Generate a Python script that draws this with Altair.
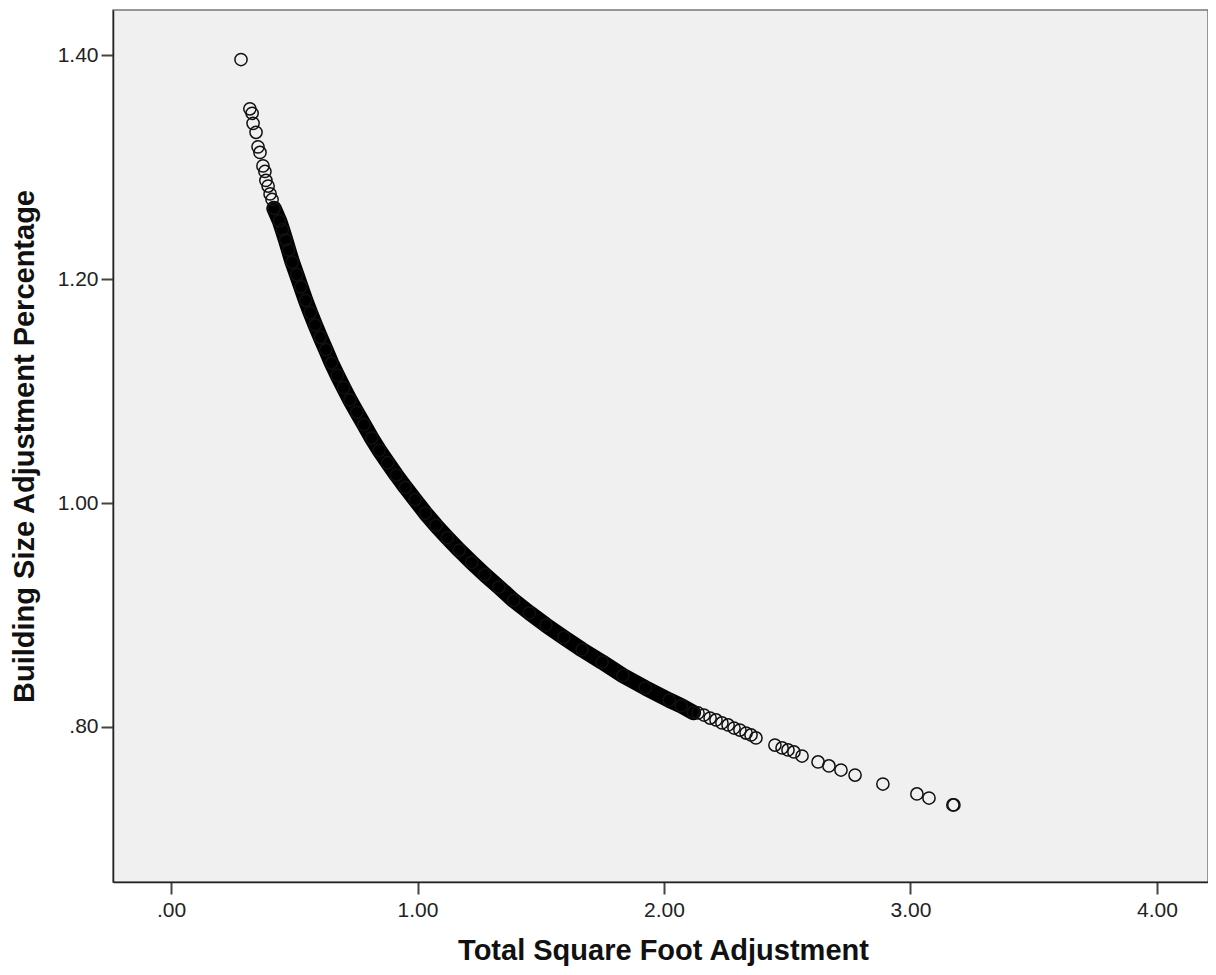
import altair as alt
import pandas as pd

sparse_x = [0.284, 0.320, 0.329, 0.333, 0.345, 0.353, 0.361, 0.373, 0.381, 0.385, 0.394, 0.402, 0.410, 0.418,
            2.138, 2.162, 2.187, 2.211, 2.235, 2.260, 2.284, 2.308, 2.333, 2.353, 2.373,
            2.450, 2.479, 2.503, 2.527, 2.560, 2.625, 2.669, 2.718, 2.775, 2.888, 3.026, 3.075, 3.172, 3.176]
sparse_y = [1.396, 1.352, 1.348, 1.339, 1.331, 1.318, 1.313, 1.301, 1.296, 1.288, 1.283, 1.276, 1.271, 1.263,
            0.8125, 0.8107, 0.8080, 0.8063, 0.8036, 0.8018, 0.7991, 0.7973, 0.7946, 0.7929, 0.7902,
            0.7839, 0.7813, 0.7795, 0.7777, 0.7741, 0.7688, 0.7652, 0.7616, 0.7571, 0.7491, 0.7402, 0.7366, 0.7304, 0.7304]

dense_x = [0.418, 0.440, 0.452, 0.465, 0.477, 0.492, 0.510, 0.527, 0.546, 0.565, 0.585, 0.606, 0.628, 0.651,
           0.675, 0.700, 0.726, 0.754, 0.783, 0.814, 0.845, 0.879, 0.914, 0.951, 0.990, 1.032, 1.075, 1.121,
           1.169, 1.220, 1.273, 1.330, 1.390, 1.454, 1.521, 1.593, 1.668, 1.749, 1.833, 1.924, 2.021, 2.070, 2.119]
dense_y = [1.263, 1.252, 1.244, 1.235, 1.226, 1.215, 1.204, 1.193, 1.181, 1.170, 1.159, 1.148, 1.137, 1.125,
           1.114, 1.103, 1.092, 1.081, 1.070, 1.058, 1.047, 1.036, 1.025, 1.014, 1.003, 0.991, 0.980, 0.969,
           0.958, 0.947, 0.936, 0.925, 0.913, 0.902, 0.891, 0.880, 0.869, 0.858, 0.846, 0.835, 0.824, 0.819, 0.813]

x_ticks = [0, 1, 2, 3, 4]
y_ticks = [0.8, 1.0, 1.2, 1.4]

sparse = pd.DataFrame({"x": sparse_x, "y": sparse_y})
dense = pd.DataFrame({"x": dense_x, "y": dense_y})
allpts = pd.concat([dense, sparse], ignore_index=True)

FONT = "Liberation Sans"

xscale = alt.Scale(domain=[-0.2353, 4.2069], nice=False, zero=False)
yscale = alt.Scale(domain=[0.6616, 1.4402], nice=False, zero=False)

xaxis = alt.Axis(
    values=x_ticks, title="Total Square Foot Adjustment", grid=False,
    labelExpr="datum.value == 0 ? '.00' : format(datum.value, '.2f')",
    labelFont=FONT, labelFontSize=21, labelColor="#222", labelPadding=5,
    tickSize=12, tickWidth=2, tickColor="#444",
    domainColor="#222", domainWidth=1.5,
    titleFont=FONT, titleFontSize=29, titleFontWeight="bold", titleColor="#111",
    titleX=550, titleY=68, titleBaseline="middle", titleAlign="center",
)
yaxis = alt.Axis(
    values=y_ticks, title="Building Size Adjustment Percentage", grid=False,
    labelExpr="datum.value < 1 ? replace(format(datum.value, '.2f'), '0.', '.') : format(datum.value, '.2f')",
    labelFont=FONT, labelFontSize=21, labelColor="#222", labelPadding=3,
    tickSize=12, tickWidth=2, tickColor="#444",
    domainColor="#222", domainWidth=1.5,
    titleFont=FONT, titleFontSize=29, titleFontWeight="bold", titleColor="#111",
    titleX=-89, titleY=436, titleAngle=270, titleBaseline="middle", titleAlign="center",
)

band = alt.Chart(dense).mark_line(
    color="#000", strokeWidth=15.5, strokeCap="round", strokeJoin="round"
).encode(
    x=alt.X("x:Q", scale=xscale, axis=xaxis),
    y=alt.Y("y:Q", scale=yscale, axis=yaxis),
    order="x:Q",
)

points = alt.Chart(allpts).mark_point(
    shape="circle", filled=False, size=150, stroke="#111", strokeWidth=1.5, opacity=1
).encode(
    x=alt.X("x:Q", scale=xscale),
    y=alt.Y("y:Q", scale=yscale),
)

chart = alt.layer(band, points).properties(
    width=1095, height=872,
    padding={"left": 105, "top": 2, "right": 0, "bottom": 85},
    autosize=alt.AutoSizeParams(type="none"),
    background="white",
).configure_view(
    fill="#F0F0F0", stroke="#777", strokeWidth=1.5
)

chart.save("out.html", embed_options={"renderer": "svg", "actions": False})
